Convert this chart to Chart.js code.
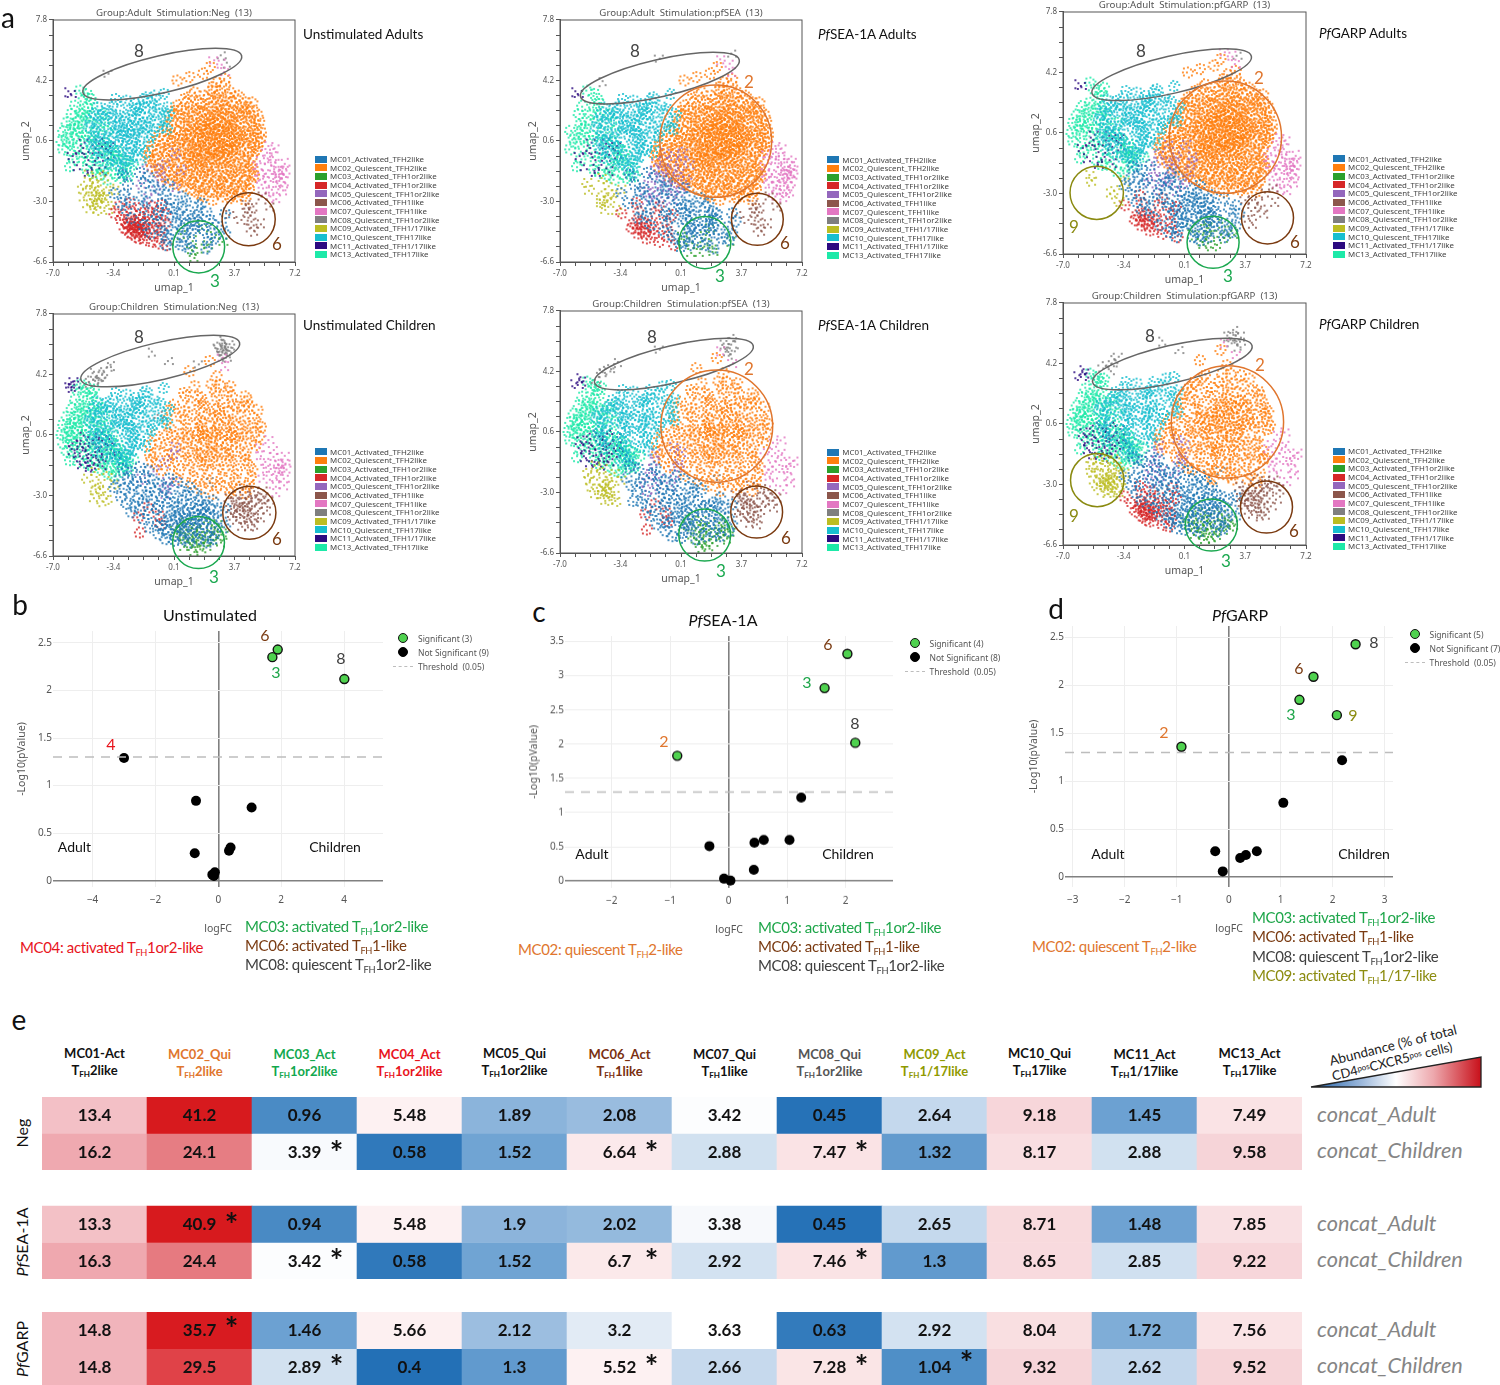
<!DOCTYPE html>
<html><head><meta charset="utf-8">
<script src="https://cdn.jsdelivr.net/npm/chart.js@4"></script>
<style>
html,body{margin:0;padding:0;background:#fff}
#page{position:relative;width:1500px;height:1385px;overflow:hidden;background:#fff;font-family:Lato,sans-serif}
#page canvas{position:absolute}
.t{position:absolute;white-space:nowrap;line-height:1.1}
.t sub{font-size:62%;line-height:0;vertical-align:-0.28em}
.t sup{font-size:62%;line-height:0;vertical-align:0.35em}
</style></head><body><div id="page"></div>
<script>
/* ---------- UMAP: points, in tenths of a umap unit, x,y,x,y,... ---------- */
const MC01_XY=[-33,-17,-29,-14,-24,-16,-19,-13,-14,-15,-31,-21,-26,-20,-21,-22,-16,-19,-11,-21,-7,-18,-2,-20,3,-22,-34,-25,-28,-26,-23,-24,-18,-27,-13,-25,-8,-23,-4,-26,1,-24,6,-27,10,-25,-30,-31,-25,-29,-20,-32,-15,-30,-10,-28,-6,-31,-1,-29,4,-32,8,-30,13,-28,17,-31,-27,-35,-22,-36,-17,-34,-12,-33,-8,-36,-3,-34,2,-36,6,-33,11,-35,15,-33,20,-36,24,-33,-24,-40,-19,-39,-14,-41,-9,-38,-5,-40,0,-39,4,-41,9,-38,13,-40,18,-38,22,-41,27,-39,31,-37,-17,-44,-12,-45,-7,-43,-3,-45,2,-43,6,-46,11,-44,15,-42,20,-45,24,-43,29,-45,33,-42,-13,-49,-9,-48,-4,-50,0,-47,5,-49,9,-47,14,-50,18,-47,23,-49,27,-47,31,-49,-8,-53,-3,-52,2,-54,7,-52,11,-54,16,-52,21,-54,25,-52,29,-53,-4,-56,1,-57,6,-56,10,-58,15,-56,20,-58,24,-56,7,-40,3,-37,12,-37,8,-44,3,-48,12,-47,6,-51,-1,-42,16,-44,19,-41,-6,-48,1,-34,10,-33,15,-38,22,-37];
const MC02_XY=[24,38,28,36,31,39,13,35,19,33,23,36,27,33,34,35,37,32,7,31,11,33,15,29,21,31,25,32,29,30,33,32,39,33,43,29,3,27,8,29,12,26,17,28,22,26,26,29,31,27,35,29,40,27,44,26,47,29,1,24,5,25,10,23,14,25,19,24,23,26,27,22,32,25,36,24,41,26,45,23,48,24,-1,21,3,22,7,20,12,21,16,22,20,19,25,21,29,23,33,20,38,21,42,23,46,20,50,21,0,18,5,17,9,19,14,16,18,18,22,17,27,19,31,16,35,18,40,17,44,19,48,16,51,18,-3,15,2,13,7,15,11,14,16,15,20,13,24,16,29,14,33,14,37,16,42,14,46,15,50,13,-5,12,-1,10,4,12,8,10,13,12,17,11,22,13,26,10,30,12,35,10,39,12,43,10,48,12,52,11,-8,9,-3,7,1,9,6,7,10,9,15,8,19,10,23,7,28,9,32,7,37,9,41,7,45,9,49,8,52,8,-10,6,-5,4,0,6,4,5,9,7,13,4,18,6,22,5,26,7,31,4,35,6,39,5,44,7,48,4,51,5,-12,3,-7,1,-2,3,3,2,7,4,12,1,16,3,20,2,25,4,29,1,33,3,38,2,42,4,46,1,50,3,-13,0,-9,-2,-4,0,1,-2,5,1,10,-2,14,0,19,-1,23,1,27,-2,32,0,36,-2,40,1,45,-1,49,0,-14,-3,-10,-5,-5,-3,0,-5,4,-2,9,-4,13,-3,17,-5,22,-2,26,-5,30,-3,35,-4,39,-2,43,-5,47,-3,-13,-6,-8,-8,-3,-6,2,-8,7,-5,11,-8,16,-6,20,-8,24,-5,29,-7,33,-6,37,-8,42,-6,46,-8,-12,-9,-7,-11,-2,-9,3,-11,8,-9,12,-11,17,-9,21,-11,26,-9,30,-10,34,-9,39,-11,43,-9,47,-10,-9,-12,-4,-14,1,-12,5,-14,10,-12,14,-14,19,-12,23,-14,27,-12,32,-14,36,-12,40,-13,45,-12,48,-14,-6,-15,0,-17,4,-15,8,-17,13,-15,17,-16,21,-15,26,-17,30,-15,34,-16,38,-15,43,-17,47,-15,-2,-18,3,-20,7,-18,12,-19,16,-18,20,-20,25,-18,29,-19,33,-18,37,-20,42,-18,46,-19,6,-21,11,-23,15,-21,19,-22,24,-21,28,-23,32,-21,36,-22,41,-21,45,-23,13,-24,17,-26,22,-24,26,-25,30,-24,35,-26,39,-24,43,-25,18,-27,24,-29,29,-27,34,-28,38,-27,43,-29,3,42,10,44,18,46,26,41,31,43,22,50,12,16,17,13,22,15,27,12,31,16,36,13,11,10,15,6,21,11,25,8,30,10,34,6,38,11,9,4,14,1,19,4,24,0,28,3,32,1,37,5,10,-3,15,-5,19,-2,23,-4,28,-1,31,-5,26,22,30,25,34,20,38,23,22,19,18,23,24,14,28,18,33,12,18,8,27,5,23,-1,14,-7,20,-10,35,1];
const MC03_XY=[3,-48,8,-46,13,-47,18,-46,23,-48,27,-47,1,-51,5,-50,10,-52,15,-50,20,-51,25,-50,29,-52,3,-54,7,-55,12,-53,17,-55,22,-54,27,-55,30,-54,4,-57,9,-58,14,-57,19,-58,24,-57,28,-58,7,-60,11,-59,16,-61,20,-60,25,-60,13,-63,17,-62,6,-53,14,-51,21,-56,10,-56,16,-54,24,-53,12,-60];
const MC04_XY=[-31,-33,-25,-31,-19,-34,-12,-33,-6,-32,-34,-37,-29,-38,-24,-36,-19,-38,-14,-37,-9,-36,-4,-38,-30,-41,-27,-43,-25,-40,-22,-42,-19,-41,-16,-43,-12,-41,-8,-42,-4,-43,-28,-46,-26,-44,-24,-46,-22,-44,-20,-46,-18,-44,-15,-46,-11,-45,-7,-47,-26,-48,-24,-49,-22,-47,-20,-49,-18,-48,-15,-50,-11,-49,-7,-51,-22,-51,-19,-52,-16,-53,-12,-54,-8,-55,-3,-56,-23,-45,-21,-48,-19,-46,-25,-43,-17,-47,-20,-43];
const MC05_XY=[-13,-2,-8,-1,-3,-3,2,-1,-14,-7,-9,-6,-4,-8,1,-6,6,-8,-15,-11,-10,-12,-5,-11,0,-13,5,-11,-16,-16,-11,-15,-6,-17,-1,-15,4,-17,-18,-20,-13,-19,-8,-21,-3,-19,2,-22,-20,-24,-15,-25,-10,-23,-5,-26,0,-24,-14,-28,-9,-30,-4,-29,-19,-29,-7,-15,-12,-22,-3,-22,-8,-11];
const MC06_XY=[36,-27,42,-26,48,-28,53,-27,33,-31,38,-30,43,-32,48,-30,54,-31,57,-33,32,-35,36,-34,40,-36,45,-34,49,-36,54,-35,34,-38,38,-39,42,-37,46,-39,51,-38,55,-39,36,-42,40,-41,44,-43,48,-41,52,-43,38,-45,42,-44,46,-46,50,-45,41,-48,45,-49,48,-48,37,-33,41,-34,47,-33,51,-33,39,-37,44,-36,49,-39,35,-41,43,-40,47,-42];
const MC07_XY=[53,2,57,3,60,1,51,-2,55,-1,59,-3,63,-1,52,-6,56,-5,60,-7,64,-5,66,-7,50,-9,54,-10,58,-9,62,-11,65,-9,67,-11,51,-13,55,-14,59,-12,62,-14,65,-13,67,-14,52,-17,56,-16,60,-18,63,-16,66,-18,53,-20,57,-21,61,-19,64,-21,66,-20,55,-24,59,-23,62,-25,65,-24,57,-27,61,-28,60,-13,63,-12,61,-16,64,-14,24,54,29,52,35,47,31,47];
const MC08_XY=[27,61,30,62,33,60,26,58,29,59,31,60,34,58,27,56,29,57,31,58,33,56,28,54,30,55,32,54,34,55,29,52,32,52,-49,37,-47,39,-45,41,-43,40,-41,42,-44,37,-40,44,-38,46,-46,43,-42,38,-36,47,-2,50,-12,55,15,48,22,-22,-8,18,46];
const MC09_XY=[-53,-15,-49,-14,-45,-16,-40,-15,-54,-19,-50,-20,-46,-19,-42,-21,-38,-19,-53,-23,-49,-24,-45,-23,-41,-25,-37,-24,-34,-23,-52,-27,-48,-28,-45,-27,-43,-29,-40,-28,-36,-28,-50,-31,-46,-31,-44,-32,-42,-30,-38,-32,-48,-34,-44,-35,-41,-34,-37,-35,-44,-28,-43,-26,-46,-29,-42,-27];
const MC10_XY=[-38,29,-33,31,-27,30,-22,28,-17,31,-12,29,-44,26,-39,25,-35,27,-30,24,-26,27,-21,25,-16,26,-11,27,-7,25,-3,26,-46,22,-42,21,-37,23,-33,20,-28,23,-24,21,-19,22,-14,20,-10,23,-5,21,-2,22,-48,18,-44,17,-40,19,-35,17,-31,18,-26,16,-22,19,-17,17,-13,18,-8,16,-4,18,-49,14,-45,12,-41,15,-37,13,-33,14,-29,12,-24,15,-20,13,-15,14,-11,12,-6,14,-3,13,-50,10,-46,8,-42,10,-38,8,-34,11,-30,9,-25,10,-21,8,-17,11,-12,9,-8,10,-48,5,-44,4,-40,6,-36,3,-32,6,-27,4,-23,6,-19,3,-14,5,-10,6,-46,1,-42,-1,-38,2,-34,0,-29,1,-25,-1,-21,1,-16,-1,-44,-4,-40,-3,-36,-5,-31,-3,-27,-5,-23,-3,-18,-5,-38,-8,-33,-7,-29,-9,-25,-7,-34,-12,-30,-11,-27,-14,-26,12,-22,10,-18,15,-28,20,-23,24,-31,15,-19,26,-12,24,-36,20,-29,8,-24,2,-5,34,-10,33,-15,32];
const MC11_XY=[-60,36,-59,34,-58,38,-61,35,-57,36,-52,5,-47,3,-43,5,-58,1,-54,0,-49,-1,-45,1,-41,-1,-59,-3,-55,-5,-51,-3,-47,-6,-43,-4,-39,-7,-56,-9,-52,-8,-48,-10,-44,-9,-41,-12,-53,-12,-49,-13,-46,-14,-36,-2,-33,-6,-37,3];
const MC13_XY=[-56,33,-54,36,-52,32,-50,34,-48,31,-46,33,-57,27,-54,24,-50,26,-47,28,-44,25,-59,22,-55,20,-52,22,-48,21,-45,19,-41,22,-62,17,-58,16,-55,18,-51,15,-48,17,-44,14,-40,17,-64,12,-60,10,-57,13,-53,11,-50,9,-46,11,-42,10,-38,12,-65,6,-61,5,-58,7,-54,4,-51,6,-47,3,-43,6,-39,5,-35,7,-64,1,-60,0,-56,2,-52,-1,-49,1,-45,-1,-40,1,-36,2,-32,0,-62,-4,-58,-5,-53,-4,-49,-6,-45,-4,-41,-6,-37,-4,-33,-3,-29,-5,-60,-9,-55,-10,-50,-11,-45,-9,-40,-10,-36,-8,-32,-9,-27,-10,-23,-8,-47,-13,-42,-14,-37,-13,-33,-14,-29,-13,-26,-15,-38,-17,-34,-18,-31,-16,-60,13,-56,9,-62,8,-59,3,-55,14,-51,20,-38,-2,-34,-5,-30,-8,-41,-11,-27,-6];

const CLUSTER_NAMES=['MC01_Activated_TFH2like','MC02_Quiescent_TFH2like','MC03_Activated_TFH1or2like','MC04_Activated_TFH1or2like','MC05_Quiescent_TFH1or2like','MC06_Activated_TFH1like','MC07_Quiescent_TFH1like','MC08_Quiescent_TFH1or2like','MC09_Activated_TFH1/17like','MC10_Quiescent_TFH17like','MC11_Activated_TFH1/17like','MC13_Activated_TFH17like'];
const CLUSTER_COLORS=['#1f77b4','#ff7f0e','#2ca02c','#d62728','#9467bd','#8c564b','#e377c2','#7f7f7f','#bcbd22','#17becf','#2c0a80','#1de9a8'];
const CLUSTER_POINTS=[MC01_XY,MC02_XY,MC03_XY,MC04_XY,MC05_XY,MC06_XY,MC07_XY,MC08_XY,MC09_XY,MC10_XY,MC11_XY,MC13_XY];
/* how much of each cluster's read points is visible in each panel (MC01..MC13) */
const SHARE_ADULT_NEG=[.6,1,.25,1,.3,.3,.7,.12,.75,.9,.5,.8];
const SHARE_CHILD_NEG=[.9,.5,.9,.1,.25,.9,.5,1,.35,.8,1,1];
const SHARE_ADULT_SEA=[.65,1,.3,.5,.85,.3,.85,.1,.4,.8,.5,.6];
const SHARE_CHILD_SEA=[.7,.5,.7,.1,.4,.7,.4,.5,.7,.7,.9,.9];
const SHARE_ADULT_GARP=[.75,1,.4,.5,.6,.25,.7,.06,.2,.8,.5,.7];
const SHARE_CHILD_GARP=[.8,.55,.8,.7,.4,.8,.4,.6,1,.7,.9,.9];

const UMAP_X_LABELS=['-7.0','-3.4','0.1','3.7','7.2'];
const UMAP_Y_LABELS=['-6.6','-3.0','0.6','4.2','7.8'];

/* marker style: each read point is drawn as a small speckle of tiny dots */
const SPECKLE_DOTS=[9,9,5,9,6,5,5,4,6,10,4,9];
const SPECKLE_OFFSETS=[[-1,0],[3,-3],[-4,3],[4,3],[-4,-4],[1,5],[0,-5],[-5,0],[5,-1],[2,1],[-2,-2],[-2,5],[5,-5]];
const DRAW_ORDER=[0,2,0,0,0,0,0,0,0,0,0,1];
function speckle(color,n){const s=document.createElement('canvas');s.width=14;s.height=14;const g=s.getContext('2d');g.fillStyle=color;
  SPECKLE_OFFSETS.slice(0,n).forEach(o=>{g.beginPath();g.arc(7+o[0],7+o[1],1.05,0,2*Math.PI);g.fill();});return s;}

/* ---------- Volcano values ---------- */
const B_SIG=[[1.89,2.43],[1.72,2.35],[4.01,2.12]];
const B_NOT=[[-3.0,1.29],[-.71,.84],[1.06,.77],[-.75,.29],[.39,.35],[.34,.315],[-.11,.09],[-.19,.065],[-.14,.05]];
const C_SIG=[[2.03,3.32],[1.64,2.82],[2.165,2.02],[-.88,1.83]];
const C_NOT=[[1.24,1.22],[-.33,.51],[.44,.56],[.6,.6],[1.04,.6],[.43,.165],[-.08,.034],[.03,.005]];
const D_SIG=[[2.44,2.43],[1.63,2.09],[1.36,1.85],[2.08,1.69],[-.91,1.36]];
const D_NOT=[[2.18,1.22],[1.05,.775],[-.26,.27],[.54,.27],[.33,.23],[.22,.2],[-.115,.06]];
const THRESHOLD=1.3;

/* ---------- Heatmap values ---------- */
const HEAT_COLUMNS=['MC01','MC02','MC03','MC04','MC05','MC06','MC07','MC08','MC09','MC10','MC11','MC13'];
const NEG_ADULT=[13.4,41.2,.96,5.48,1.89,2.08,3.42,.45,2.64,9.18,1.45,7.49];
const NEG_CHILD=[16.2,24.1,3.39,.58,1.52,6.64,2.88,7.47,1.32,8.17,2.88,9.58];
const SEA_ADULT=[13.3,40.9,.94,5.48,1.9,2.02,3.38,.45,2.65,8.71,1.48,7.85];
const SEA_CHILD=[16.3,24.4,3.42,.58,1.52,6.7,2.92,7.46,1.3,8.65,2.85,9.22];
const GARP_ADULT=[14.8,35.7,1.46,5.66,2.12,3.2,3.63,.63,2.92,8.04,1.72,7.56];
const GARP_CHILD=[14.8,29.5,2.89,.4,1.3,5.52,2.66,7.28,1.04,9.32,2.62,9.52];
const HEAT_ROWS=[NEG_ADULT,NEG_CHILD,SEA_ADULT,SEA_CHILD,GARP_ADULT,GARP_CHILD];
const STARS=[[1,2,-3],[1,5,-3],[1,7,-3],[2,1,-4],[3,2,-4],[3,5,-4],[3,7,-4],[4,1,-6],[5,2,-4],[5,5,-4],[5,7,-4],[5,8,-8]];

const page=document.getElementById('page');
const UFONT='"Noto Sans",sans-serif';
const GRAY='#555';
function txt(x,y,html,css,anchor){
  const d=document.createElement('div');d.className='t';d.innerHTML=html;
  const tr={c:'translate(-50%,-50%)',l:'translateY(-50%)'}[anchor||'c'];
  d.style.cssText=`left:${x}px;top:${y}px;transform:${tr};${css||''}`;
  page.appendChild(d);return d;
}
function mkCanvas(l,t,w,h){const c=document.createElement('canvas');c.width=w;c.height=h;c.style.cssText=`left:${l}px;top:${t}px;width:${w}px;height:${h}px`;page.appendChild(c);return c;}
function thin(flat,share){const out=[];const n=flat.length/2;for(let i=0;i<n;i++){if(Math.floor((i+1)*share)>Math.floor(i*share))out.push({x:flat[2*i]/10,y:flat[2*i+1]/10});}return out;}

function umap(p){
  const W=p.R-p.L,H=p.B-p.T,side=35,topH=13,botH=32;
  const c=mkCanvas(Math.round(p.L-2*side),Math.round(p.T-topH),Math.round(W+3*side),Math.round(H+topH+botH));
  const sets=CLUSTER_NAMES.map((n,i)=>({label:n,order:DRAW_ORDER[i],data:thin(CLUSTER_POINTS[i],p.share[i]),pointStyle:speckle(CLUSTER_COLORS[i],SPECKLE_DOTS[i]),pointRotation:ctx=>ctx.dataIndex%4*90,backgroundColor:CLUSTER_COLORS[i],pointRadius:3,pointBorderWidth:0,showLine:false}));
  const majorLabel=(labels)=>(v,i)=>i%4===0?labels[i/4]:'';
  const tickFont={family:UFONT,size:8};
  const rings={id:'rings',afterDraw(ch){
    const a=ch.chartArea,g=ch.ctx,xs=ch.scales.x,ys=ch.scales.y;
    g.save();g.strokeStyle='#555';g.lineWidth=1;g.strokeRect(a.left,a.top,a.right-a.left,a.bottom-a.top);
    p.rings.forEach(r=>{const cx=xs.getPixelForValue(r[0]),cy=ys.getPixelForValue(r[1]);
      const rx=Math.abs(xs.getPixelForValue(r[0]+r[2])-cx),ry=Math.abs(ys.getPixelForValue(r[1]+r[3])-cy);
      g.beginPath();g.ellipse(cx,cy,rx,ry,(r[4]||0)*Math.PI/180,0,2*Math.PI);g.strokeStyle=r[5];g.lineWidth=1.5;g.stroke();});
    g.restore();}};
  new Chart(c,{type:'scatter',data:{datasets:sets},plugins:[rings],options:{responsive:false,animation:false,
    layout:{padding:{left:side,right:side,top:0,bottom:0}},
    plugins:{legend:{display:false},tooltip:{enabled:false},title:{display:true,fullSize:false,text:p.title,color:GRAY,font:{family:UFONT,size:9.7,weight:'normal',lineHeight:1.237},padding:{top:0,bottom:1}}},
    scales:{
      x:{type:'linear',min:-7,max:7.2,afterFit(s){s.height=botH},
        afterBuildTicks(s){const t=[];for(let i=0;i<=16;i++)t.push({value:-7+i*14.2/16});s.ticks=t},
        ticks:{font:tickFont,color:GRAY,padding:3,maxRotation:0,autoSkip:false,callback:majorLabel(UMAP_X_LABELS)},
        grid:{drawOnChartArea:false,tickLength:4,tickColor:GRAY},border:{color:GRAY},
        title:{display:true,text:'umap_1',color:GRAY,font:{family:UFONT,size:10.5,lineHeight:1.143},padding:0}},
      y:{type:'linear',min:-6.6,max:7.8,afterFit(s){s.width=side},
        afterBuildTicks(s){const t=[];for(let i=0;i<=16;i++)t.push({value:-6.6+i*.9});s.ticks=t},
        ticks:{font:tickFont,color:GRAY,padding:2,autoSkip:false,callback:majorLabel(UMAP_Y_LABELS)},
        grid:{drawOnChartArea:false,tickLength:4,tickColor:GRAY},border:{color:GRAY},
        title:{display:true,text:'umap_2',color:GRAY,font:{family:UFONT,size:10.5,lineHeight:1.143},padding:{top:2,bottom:0}}}
    }}});
  // legend
  CLUSTER_NAMES.forEach((n,i)=>{const y=p.legY+i*8.67;
    const s=document.createElement('div');s.style.cssText=`position:absolute;left:${p.legX}px;top:${y-3.5}px;width:12px;height:7px;background:${CLUSTER_COLORS[i]}`;page.appendChild(s);
    txt(p.legX+15,y,n,`font:7.9px ${UFONT};color:#444`,'l');});
  p.nums.forEach(a=>txt(a[1],a[2]-1,a[0],`font:17px Lato,sans-serif;color:${a[3]}`));
  txt(p.headX,p.headY,p.head,'font:13.5px Lato,sans-serif;color:#111','l');
}
const CG='#666',CO='#e0762e',CGR='#1aa84f',CB='#7a3a10',CY='#8a8a10';
const N8='#444',N2='#e0762e',N3='#1aa84f',N6='#7a3a10',N9='#8a8a10';
const PANELS=[
 {L:53.3,R:295.7,T:20,B:261.7,share:SHARE_ADULT_NEG,title:'Group:Adult  Stimulation:Neg  (13)',head:'Unstimulated Adults',headX:303,headY:34,legX:315,legY:159,
  rings:[[-.59,4.58,4.78,1.11,-13,CG],[1.55,-5.7,1.52,1.55,0,CGR],[4.48,-4.06,1.56,1.58,0,CB]],nums:[['8',139,51,N8],['3',215,281,N3],['6',277,244,N6]]},
 {L:53.3,R:295.7,T:314.3,B:556.7,share:SHARE_CHILD_NEG,title:'Group:Children  Stimulation:Neg  (13)',head:'Unstimulated Children',headX:303,headY:325,legX:315,legY:451.7,
  rings:[[-.71,5.0,4.78,1.11,-13,CG],[1.54,-5.8,1.52,1.55,0,CGR],[4.52,-4.03,1.56,1.58,0,CB]],nums:[['8',139,337,N8],['6',277,539,N6],['3',214,577,N3]]},
 {L:560,R:802.3,T:20,B:261.7,share:SHARE_ADULT_SEA,title:'Group:Adult  Stimulation:pfSEA  (13)',head:'<i>Pf</i>SEA-1A Adults',headX:818,headY:34,legX:827.3,legY:159.7,
  rings:[[-1.14,4.34,4.78,1.11,-13,CG],[1.5,-5.45,1.52,1.55,0,CGR],[4.58,-4.06,1.52,1.55,0,CB],[2.14,.59,3.28,3.34,0,CO]],nums:[['8',635,51,N8],['2',749,82,N2],['3',720,276,N3],['6',785,243,N6]]},
 {L:560,R:802.3,T:311,B:552.7,share:SHARE_CHILD_SEA,title:'Group:Children  Stimulation:pfSEA  (13)',head:'<i>Pf</i>SEA-1A Children',headX:818,headY:325,legX:827.3,legY:452,
  rings:[[-.32,4.64,4.78,1.11,-13,CG],[1.49,-5.53,1.52,1.55,0,CGR],[4.54,-4.16,1.52,1.55,0,CB],[2.2,.95,3.28,3.34,0,CO]],nums:[['8',652,337,N8],['2',749,369,N2],['3',721,571,N3],['6',786,538,N6]]},
 {L:1063.3,R:1306,T:11.7,B:253.3,share:SHARE_ADULT_GARP,title:'Group:Adult  Stimulation:pfGARP  (13)',head:'<i>Pf</i>GARP Adults',headX:1319,headY:33,legX:1333,legY:158.7,
  rings:[[-.65,4.07,4.78,1.11,-13,CG],[1.77,-5.9,1.52,1.55,0,CGR],[4.95,-4.45,1.52,1.55,0,CB],[2.49,.35,3.28,3.34,0,CO],[-5.03,-2.96,1.56,1.58,0,CY]],nums:[['8',1141,51,N8],['2',1259,78,N2],['3',1228,276,N3],['6',1295,242,N6],['9',1074,227,N9]]},
 {L:1063.3,R:1306,T:303,B:544.5,share:SHARE_CHILD_GARP,title:'Group:Children  Stimulation:pfGARP  (13)',head:'<i>Pf</i>GARP Children',headX:1319,headY:324,legX:1333,legY:451,
  rings:[[-.61,4.17,4.78,1.11,-13,CG],[1.67,-5.41,1.52,1.55,0,CGR],[4.89,-4.34,1.52,1.55,0,CB],[2.61,.72,3.28,3.34,0,CO],[-5.0,-2.74,1.56,1.58,0,CY]],nums:[['8',1150,336,N8],['2',1260,365,N2],['3',1226,561,N3],['6',1294,531,N6],['9',1074,516,N9]]},
];
PANELS.forEach(umap);

/* ---------- Volcano plots ---------- */
const pts=a=>a.map(p=>({x:p[0],y:p[1]}));
function volcano(v){
  const left=v.L-40,top=v.T-4,w=40+(v.R-v.L)+6,h=4+(v.B-v.T)+48;
  const c=mkCanvas(left,top,w,h);
  const lab=s=>String(s).replace('-','\u2212');
  const tf={family:UFONT,size:10};
  new Chart(c,{type:'scatter',data:{datasets:[
    {label:'Threshold (0.05)',data:[{x:v.xr[0],y:THRESHOLD},{x:v.xr[1],y:THRESHOLD}],showLine:true,borderColor:'#bdbdbd',borderWidth:1.5,borderDash:[9,7],pointRadius:0},
    {label:`Not Significant (${v.not.length})`,data:pts(v.not),backgroundColor:'#000',borderColor:'#000',pointRadius:5,pointBorderWidth:0},
    {label:`Significant (${v.sig.length})`,data:pts(v.sig),backgroundColor:'#4fd24f',borderColor:'#111',pointRadius:4.5,pointBorderWidth:1.4}
  ]},options:{responsive:false,animation:false,layout:{padding:{left:0,right:6,top:4,bottom:0}},
    plugins:{legend:{display:false},tooltip:{enabled:false}},
    scales:{
      x:{type:'linear',min:v.xr[0],max:v.xr[1],afterFit(s){s.height=48},
        ticks:{stepSize:v.xs,includeBounds:false,font:tf,color:GRAY,padding:7,maxRotation:0,callback:lab},
        grid:{drawTicks:false,color:t=>t.tick.value===0?'#808080':'#eeeeee',lineWidth:t=>t.tick.value===0?1.6:1},border:{display:false},
        title:{display:true,text:'logFC',color:GRAY,font:{family:UFONT,size:10.5,lineHeight:1.143},padding:0}},
      y:{type:'linear',min:v.yr[0],max:v.yr[1],afterFit(s){s.width=40},
        ticks:{stepSize:.5,includeBounds:false,font:tf,color:GRAY,padding:1,callback:lab},
        grid:{drawTicks:false,color:t=>t.tick.value===0?'#808080':'#eeeeee',lineWidth:t=>t.tick.value===0?1.6:1},border:{display:false},
        title:{display:true,text:'-Log10(pValue)',color:GRAY,font:{family:UFONT,size:10.5,lineHeight:1.143},padding:{top:v.titleOff,bottom:0}}}
    }}});
  txt(v.title[1],v.title[2]-2,v.title[0],'font:16px Lato,sans-serif;color:#111');
  v.nums.forEach(a=>txt(a[1],a[2]-2,a[0],`font:16px Lato,sans-serif;color:${a[3]}`));
  txt(v.ad[0],v.ad[2]-1,'Adult','font:14px Lato,sans-serif;color:#111');
  txt(v.ad[1],v.ad[2]-1,'Children','font:14px Lato,sans-serif;color:#111');
  // legend
  const lx=v.leg[0],ly=v.leg[1];
  const rows=[[`Significant (${v.sig.length})`,'#4fd24f','#111'],[`Not Significant (${v.not.length})`,'#000','#000']];
  rows.forEach((r,i)=>{const d=document.createElement('div');d.style.cssText=`position:absolute;left:${lx-5}px;top:${ly+i*13.8-5}px;width:10px;height:10px;border-radius:50%;box-sizing:border-box;background:${r[1]};border:1.2px solid ${r[2]}`;page.appendChild(d);
    txt(lx+15,ly+i*13.8,r[0],`font:8.5px ${UFONT};color:#555`,'l');});
  const ds=document.createElement('div');ds.style.cssText=`position:absolute;left:${lx-10}px;top:${ly+27.6}px;width:20px;height:0;border-top:1.5px dashed #bdbdbd`;page.appendChild(ds);
  txt(lx+15,ly+27.6,'Threshold&nbsp; (0.05)',`font:8.5px ${UFONT};color:#555`,'l');
  v.notes.forEach(a=>txt(a[1],a[2]-1,a[0],`font:15px Lato,sans-serif;letter-spacing:-.35px;color:${a[3]}`,'l'));
}
const RED='#e8141c',GRN='#1ea64a',BRN='#7a3b12',DK='#404040',OLV='#8c8c10',ORG='#e0762e';
const MC03T='MC03: activated T<sub>FH</sub>1or2-like',MC06T='MC06: activated T<sub>FH</sub>1-like',MC08T='MC08: quiescent T<sub>FH</sub>1or2-like',MC09T='MC09: activated T<sub>FH</sub>1/17-like',MC02T='MC02: quiescent T<sub>FH</sub>2-like',MC04T='MC04: activated T<sub>FH</sub>1or2-like';
volcano({L:53,R:383,T:628,B:887,xr:[-5.26,5.24],yr:[-.065,2.625],xs:2,sig:B_SIG,not:B_NOT,titleOff:3,
  title:['Unstimulated',210,616],ad:[74.5,335,847],leg:[403,638],
  nums:[['6',265,636,BRN],['3',276,673,GRN],['8',341,659,DK],['4',111,745,RED]],
  notes:[[MC04T,20,948,RED],[MC03T,245,927,GRN],[MC06T,245,946,BRN],[MC08T,245,965,DK]]});
volcano({L:565,R:893,T:633,B:887.6,xr:[-2.8,2.81],yr:[-.1,3.58],xs:1,sig:C_SIG,not:C_NOT,titleOff:3,
  title:['<i>Pf</i>SEA-1A',723,621],ad:[592,848,854],leg:[914.5,643],
  nums:[['6',828,645,BRN],['3',807,683,GRN],['8',855,724,DK],['2',664,742,ORG]],
  notes:[[MC02T,518,950,ORG],[MC03T,758,928,GRN],[MC06T,758,947,BRN],[MC08T,758,966,DK]]});
volcano({L:1065,R:1393,T:623,B:887,xr:[-3.15,3.16],yr:[-.103,2.62],xs:1,sig:D_SIG,not:D_NOT,titleOff:3,
  title:['<i>Pf</i>GARP',1240,616],ad:[1108,1364,854],leg:[1414.5,634],
  nums:[['8',1374,643,DK],['6',1299,669,BRN],['3',1291,715,GRN],['9',1353,716,OLV],['2',1164,733,ORG]],
  notes:[[MC02T,1032,947,ORG],[MC03T,1252,918,GRN],[MC06T,1252,937,BRN],[MC08T,1252,957,DK],[MC09T,1252,976,OLV]]});

/* ---------- Heatmap ---------- */
const HEAT_STOPS=[[.4,[35,112,182]],[.96,[74,139,197]],[1.5,[111,163,211]],[2.1,[154,189,223]],[2.65,[197,217,237]],[3.2,[226,235,245]],[3.45,[255,255,255]],[3.65,[255,255,255]],[5.5,[253,241,242]],[7.5,[250,227,229]],[9.5,[246,212,216]],[13.4,[243,192,198]],[16.3,[239,168,175]],[24.2,[230,124,130]],[29.5,[224,66,72]],[35.7,[216,27,32]],[41.2,[215,26,30]]];
function heatColor(v){for(let i=1;i<HEAT_STOPS.length;i++){const a=HEAT_STOPS[i-1],b=HEAT_STOPS[i];if(v<=b[0]){const t=Math.max(0,(v-a[0])/(b[0]-a[0]));return`rgb(${a[1].map((c,k)=>Math.round(c+(b[1][k]-c)*t)).join(',')})`;}}return'rgb(215,26,30)';}
const ROW_SPANS=[[0,1],[1,2],[3,4],[4,5],[5.92,6.92],[6.92,7.92]];
const heatCanvas=mkCanvas(42,1097,1260,288);
const cellText={id:'cellText',afterDatasetsDraw(ch){const g=ch.ctx;g.save();g.textAlign='center';g.textBaseline='middle';g.fillStyle='#111';
  ch.data.datasets.forEach((d,di)=>{ch.getDatasetMeta(di).data.forEach((el,ci)=>{const p=el.getProps(['x','y','base'],true);
    g.font='bold 17px Lato,sans-serif';g.fillText(String(HEAT_ROWS[di][ci]),p.x,(p.y+p.base)/2+.5);});});
  STARS.forEach(s=>{const el=ch.getDatasetMeta(s[0]).data[s[1]];const p=el.getProps(['x','y','base'],true);g.font='bold 32px Lato,sans-serif';g.fillText('*',p.x+32,(p.y+p.base)/2+s[2]+6);});
  g.restore();}};
new Chart(heatCanvas,{type:'bar',data:{labels:HEAT_COLUMNS,datasets:HEAT_ROWS.map((r,i)=>({label:'row'+i,data:r.map(()=>ROW_SPANS[i]),backgroundColor:r.map(heatColor),barPercentage:1,categoryPercentage:1,grouped:false,borderWidth:0,inflateAmount:.3}))}
  ,plugins:[cellText],options:{responsive:false,animation:false,layout:{padding:0},plugins:{legend:{display:false},tooltip:{enabled:false}},
  scales:{x:{type:'category',display:false,offset:true},y:{type:'linear',display:false,reverse:true,min:0,max:7.92}}}});

const HEAD_1=['MC01-Act','MC02_Qui','MC03_Act','MC04_Act','MC05_Qui','MC06_Act','MC07_Qui','MC08_Qui','MC09_Act','MC10_Qui','MC11_Act','MC13_Act'];
const HEAD_2=['2like','2like','1or2like','1or2like','1or2like','1like','1like','1or2like','1/17like','17like','1/17like','17like'];
const HEAD_COL=['#111','#e0762e','#12a84e','#e8141c','#111','#7a3010','#111','#555','#8f9a00','#111','#111','#111'];
const HEAD_DY=[0,1,1,1,0,1,1,1,1,0,1,0];
HEAD_1.forEach((h,i)=>{const x=42+105*i+52.5;
  txt(x,1053+HEAD_DY[i],h,`font:bold 13px Lato,sans-serif;color:${HEAD_COL[i]}`);
  txt(x,1070+HEAD_DY[i],'T<sub>FH</sub>'+HEAD_2[i],`font:bold 13px Lato,sans-serif;color:${HEAD_COL[i]}`);});
const ROW_LABELS=[['Adult',1113.5],['Children',1149.5],['Adult',1222.5],['Children',1258.5],['Adult',1328.5],['Children',1364.5]];
ROW_LABELS.forEach(r=>txt(1317,r[1],'concat_'+r[0],'font:italic 21.7px Lato,sans-serif;color:#858585','l'));
[['Neg',21,1133],['<i>Pf</i>SEA-1A',21,1242],['<i>Pf</i>GARP',21,1349]].forEach(r=>{const d=txt(r[1],r[2],r[0],'font:16px Lato,sans-serif;color:#111');d.style.transform='translate(-50%,-50%) rotate(-90deg)';});

/* colour-scale wedge */
const svgNS='http://www.w3.org/2000/svg';
const wedge=document.createElement('div');wedge.style.cssText='position:absolute;left:1305px;top:1050px;width:185px;height:45px';
wedge.innerHTML='<svg xmlns="'+svgNS+'" width="185" height="45"><defs><linearGradient id="gr" x1="0" x2="1" y1="0" y2="0"><stop offset="0" stop-color="#1f5fa8"/><stop offset=".3" stop-color="#9db9dc"/><stop offset=".5" stop-color="#fff"/><stop offset=".72" stop-color="#eda8ad"/><stop offset="1" stop-color="#c8101a"/></linearGradient></defs><polygon points="6,37 176,37 176,7" fill="url(#gr)" stroke="#222" stroke-width="1.3"/></svg>';
page.appendChild(wedge);
let a1=txt(1393,1045,'Abundance (% of total','font:13.5px Lato,sans-serif;color:#222');a1.style.transform='translate(-50%,-50%) rotate(-14deg)';
let a2=txt(1392,1061,'CD4<sup>pos</sup>CXCR5<sup>pos</sup> cells)','font:13px Lato,sans-serif;color:#222');a2.style.transform='translate(-50%,-50%) rotate(-14deg)';

/* panel letters */
[['a',8,17],['b',20,604],['c',539,611],['d',1056,608],['e',19,1019]].forEach(l=>txt(l[1],l[2],l[0],'font:28px Lato,sans-serif;color:#111'));
</script></body></html>
